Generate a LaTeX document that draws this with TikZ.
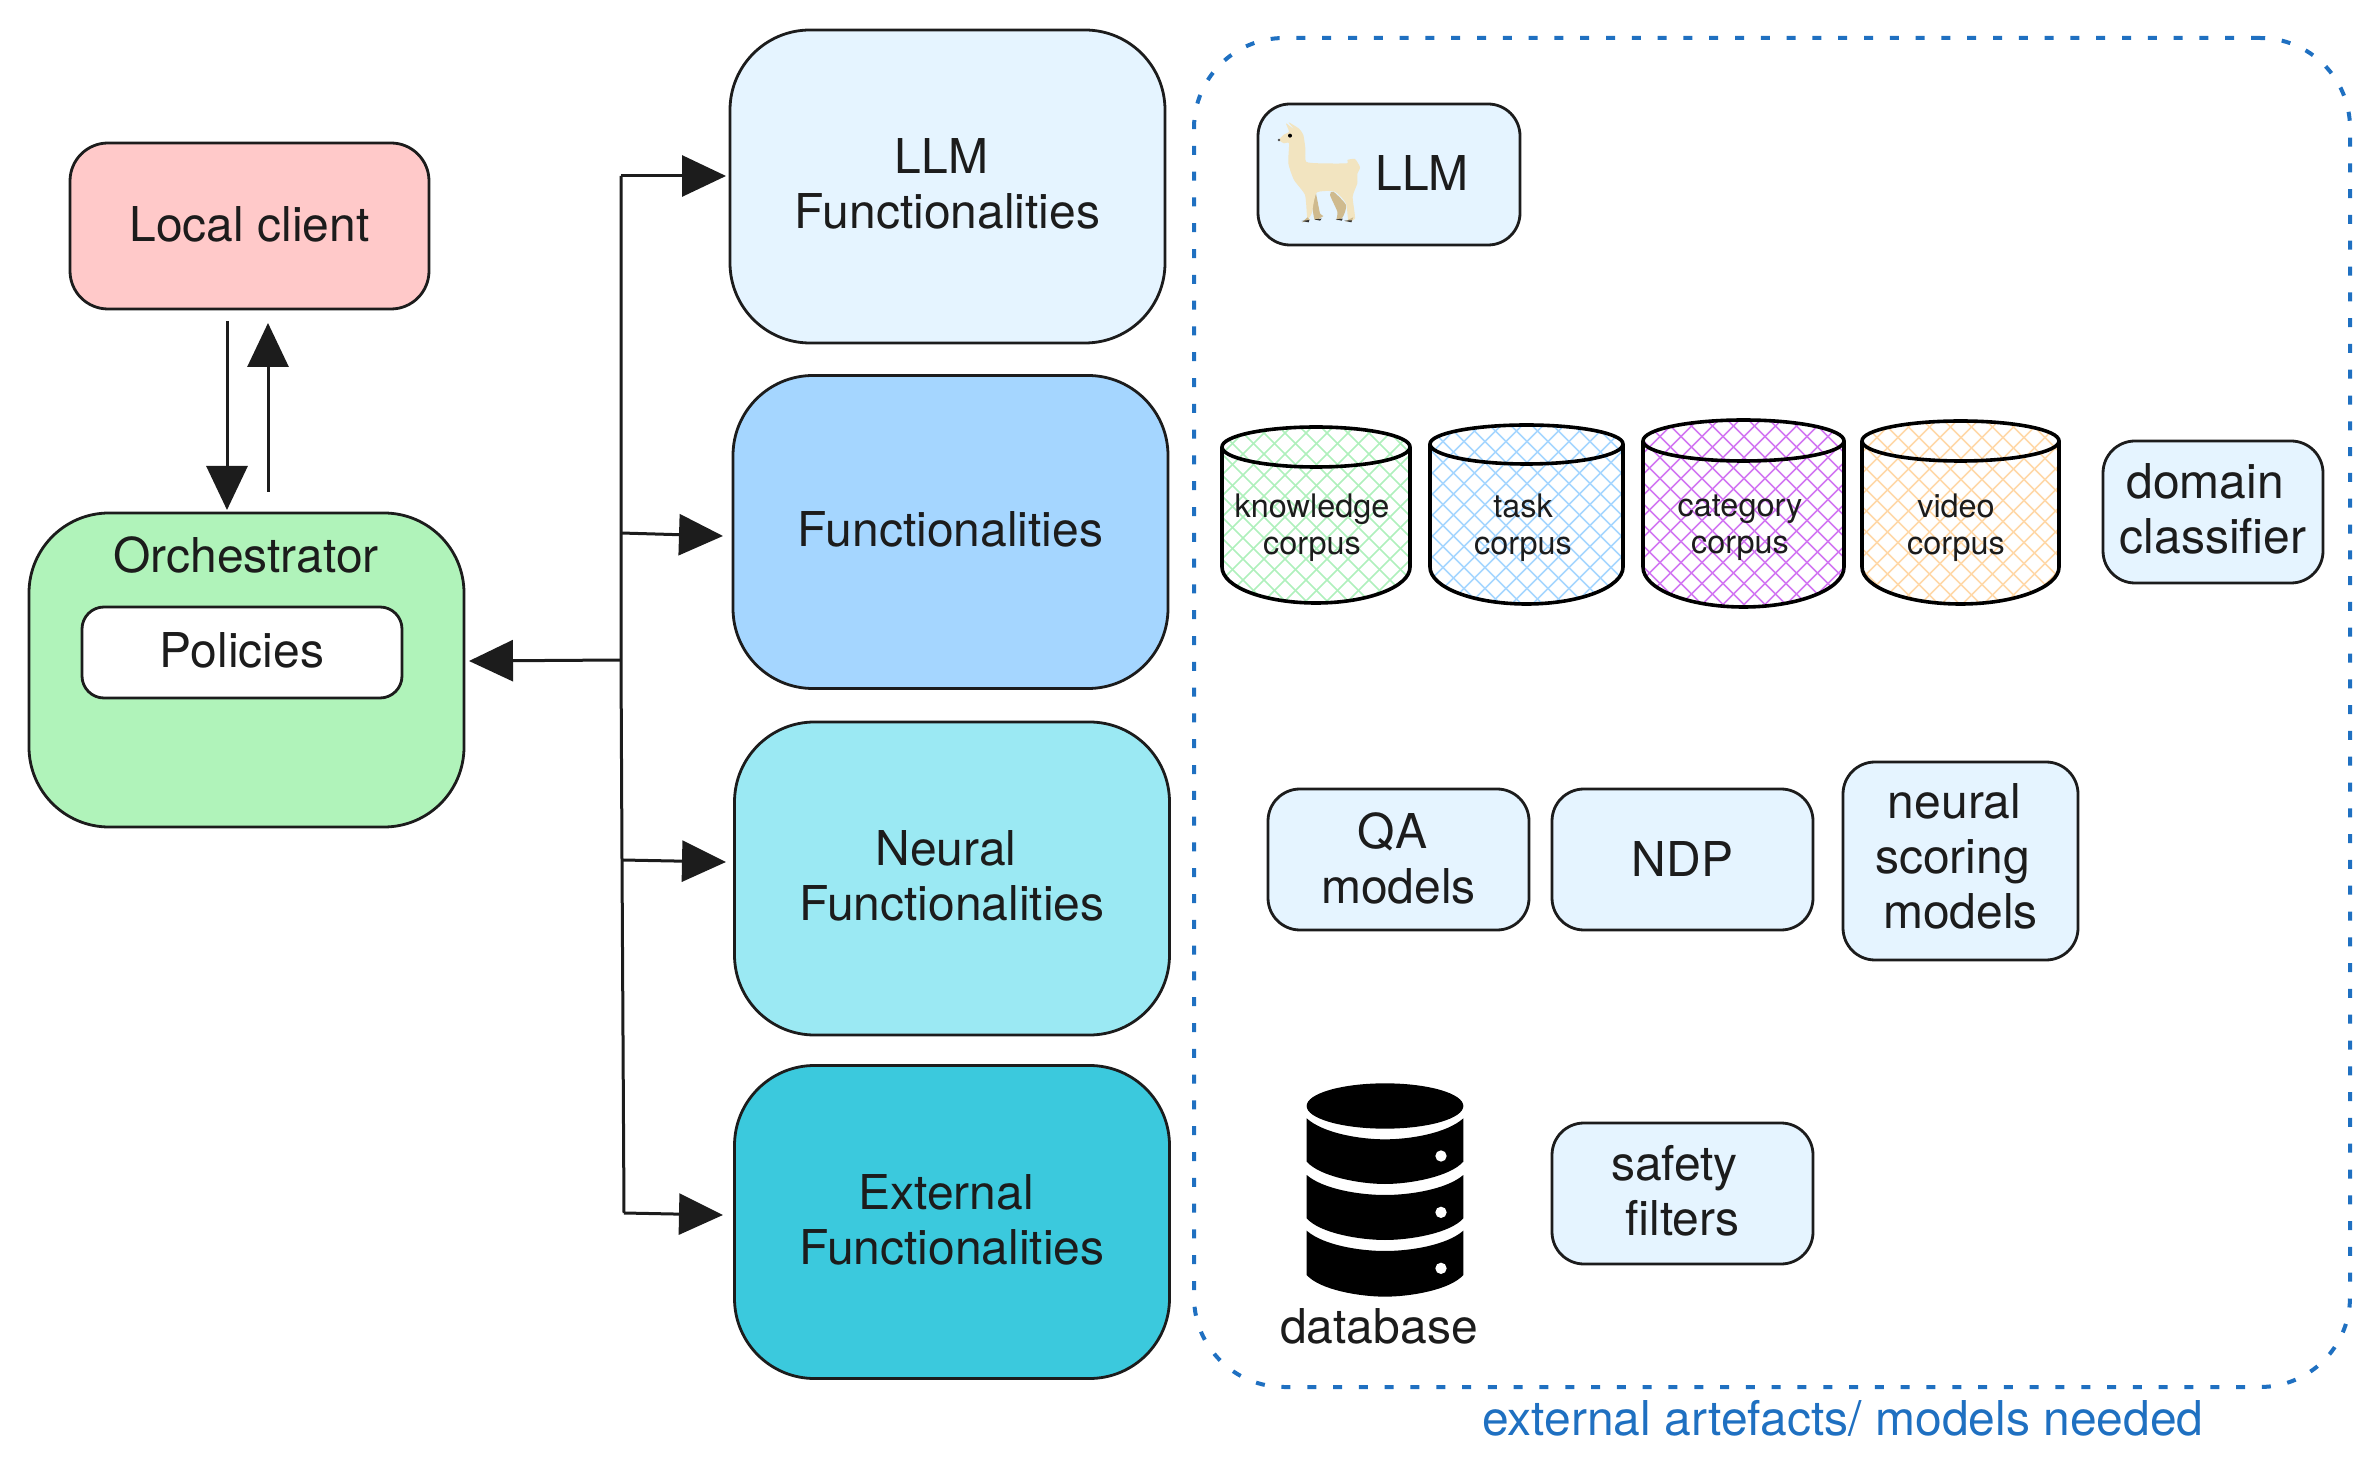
\documentclass[tikz,border=0pt]{standalone}
\usepackage{fontspec}
\setmainfont{TeX Gyre Heros}
\usetikzlibrary{arrows.meta}
\definecolor{ink}{HTML}{1C1C1C}
\definecolor{dashblue}{HTML}{1F70C1}
\definecolor{cLocal}{HTML}{FFC9C9}
\definecolor{cOrch}{HTML}{B0F3BA}
\definecolor{cPale}{HTML}{E5F4FF}
\definecolor{cFunc}{HTML}{A5D6FF}
\definecolor{cNeural}{HTML}{9BE9F3}
\definecolor{cExt}{HTML}{3BC9DD}
\definecolor{hGreen}{HTML}{AFF0BC}
\definecolor{hBlue}{HTML}{A6D6FF}
\definecolor{hPurple}{HTML}{D277F2}
\definecolor{hOrange}{HTML}{FFD8A8}
\definecolor{llamaA}{HTML}{F2E4C0}
\definecolor{llamaB}{HTML}{CFBA8E}
\tikzset{
  box/.style={draw=ink,line width=1.4pt,inner sep=0pt,align=center,text=ink,font=\fontsize{24}{27.5}\selectfont},
  bigbox/.style={box,rounded corners=40pt,minimum width=217.5pt,minimum height=156.5pt,text depth=3pt},
  smallbox/.style={box,fill=cPale,rounded corners=16pt},
  plain/.style={inner sep=0pt,align=center,text=ink,font=\fontsize{24}{27.5}\selectfont},
  corpustext/.style={inner sep=0pt,align=center,text=ink,font=\fontsize{16.2}{18.7}\selectfont},
  arr/.style={draw=ink,line width=1.5pt,-{Triangle[length=22pt,width=20.5pt]}},
  busline/.style={draw=ink,line width=1.5pt},
  cylline/.style={draw=black,line width=1.8pt},
}
\newcommand\corpus[8]{%
  \begin{scope}
  \pgfmathsetmacro\cyC{(#1+#2)/2}
  \pgfmathsetmacro\cyK{(#2-#1)/2*0.5523}
  \pgfmathsetmacro\cyA{#6+0.5523*(#7-#6)}
  \pgfmathsetmacro\cyB{#4-0.5523*(#4-#3)}
  \pgfmathsetmacro\cyD{#4+0.5523*(#5-#4)}
  \begin{scope}
    \clip (#1,#4) -- (#1,#6) .. controls (#1,\cyA) and (\cyC-\cyK,#7) .. (\cyC,#7)
      .. controls (\cyC+\cyK,#7) and (#2,\cyA) .. (#2,#6) -- (#2,#4)
      .. controls (#2,\cyB) and (\cyC+\cyK,#3) .. (\cyC,#3)
      .. controls (\cyC-\cyK,#3) and (#1,\cyB) .. (#1,#4) -- cycle;
    \foreach \o in {-220,-199,...,240}{
      \draw[#8,line width=0.8pt] (\cyC+\o-100,#3-10) -- (\cyC+\o+100,#3+190);
      \draw[#8,line width=0.8pt] (\cyC+\o+100,#3-10) -- (\cyC+\o-100,#3+190);
    }
  \end{scope}
  \draw[cylline] (#1,#4) -- (#1,#6) .. controls (#1,\cyA) and (\cyC-\cyK,#7) .. (\cyC,#7)
      .. controls (\cyC+\cyK,#7) and (#2,\cyA) .. (#2,#6) -- (#2,#4)
      .. controls (#2,\cyB) and (\cyC+\cyK,#3) .. (\cyC,#3)
      .. controls (\cyC-\cyK,#3) and (#1,\cyB) .. (#1,#4) -- cycle;
  \draw[cylline] (#1,#4) .. controls (#1,\cyD) and (\cyC-\cyK,#5) .. (\cyC,#5)
      .. controls (\cyC+\cyK,#5) and (#2,\cyD) .. (#2,#4);
  \end{scope}
}
\begin{document}
\begin{tikzpicture}[x=0.5pt,y=-0.5pt]
\useasboundingbox (0,0) rectangle (2378,1475);

% dashed frame
\node[draw=dashblue,line width=2pt,dash pattern=on 4.5pt off 8.4pt,rounded corners=45pt,
  minimum width=578pt,minimum height=674.5pt,inner sep=0pt] (frame) at (1772,712.5) {};
\node[inner sep=0pt,text=dashblue,font=\fontsize{24}{27.5}\selectfont] (framelabel) at (1843,1418) {external artefacts/ models needed};

% left column
\node[box,fill=cLocal,rounded corners=19pt,minimum width=179.5pt,minimum height=83pt,text depth=2pt] (local) at (249.5,226) {Local client};
\node[box,fill=cOrch,rounded corners=40pt,minimum width=217.5pt,minimum height=157pt] (orch) at (246.5,670) {};
\node[plain] (orchlabel) at (246,555) {Orchestrator};
\node[box,fill=white,rounded corners=11pt,minimum width=160pt,minimum height=45.5pt,text depth=2pt] (policies) at (242,652.5) {Policies};

% functionality column
\node[bigbox,fill=cPale] (llm) at (947.5,186.5) {LLM\kern6pt\\Functionalities};
\node[bigbox,fill=cFunc] (func) at (950.5,532) {Functionalities};
\node[bigbox,fill=cNeural] (neural) at (952,878.5) {Neural\kern6pt\\Functionalities};
\node[bigbox,fill=cExt] (ext) at (952,1222) {External\kern6pt\\Functionalities};

% connectors
\coordinate (d1) at (227,321);
\coordinate (d2) at (227,510);
\coordinate (u1) at (268,492);
\coordinate (u2) at (268,323);
\draw[arr] (d1) -- (d2);
\draw[arr] (u1) -- (u2);
\coordinate (b1) at (621,176);
\coordinate (b2) at (621,533);
\coordinate (b0) at (621,660);
\coordinate (b3) at (622,860);
\coordinate (b4) at (624,1213);
\coordinate (t0) at (469,661);
\coordinate (t1) at (726,176);
\coordinate (t2) at (723,536);
\coordinate (t3) at (726,862);
\coordinate (t4) at (723,1215);
\draw[busline] (b1) -- (b0) -- (b3) -- (b4);
\draw[arr] (b0) -- (t0);
\draw[arr] (b1) -- (t1);
\draw[arr] (b2) -- (t2);
\draw[arr] (b3) -- (t3);
\draw[arr] (b4) -- (t4);

% LLM box with llama
\node[smallbox,minimum width=131pt,minimum height=70.5pt] (llmbox) at (1389,174.5) {};
\node[plain] (llmlabel) at (1422,173) {LLM};
\begin{scope}[shift={(1220,80)},scale=1/3]
  \fill[llamaB] plot[smooth cycle,tension=.4] coordinates {(285,330) (300,400) (310,408) (285,420) (278,390) (268,340)};
  \fill[llamaB] plot[smooth cycle,tension=.4] coordinates {(340,335) (378,375) (368,412) (350,420) (352,395) (330,345)};
  \fill[llamaA] plot[smooth cycle,tension=.35] coordinates {(177,180) (190,165) (207,155) (198,130) (222,148) (206,127) (237,146) (250,165) (256,205) (258,245) (300,250) (380,250) (382,240) (405,237) (420,262) (412,282) (412,310) (398,350) (405,415) (385,420) (378,370) (345,335) (290,338) (275,400) (262,415) (255,345) (222,300) (205,250) (207,190) (192,190)};
  \fill[llamaB] (262,412) -- (270,420) -- (246,427) -- cycle;
  \fill[llamaB] (400,412) -- (395,425) -- (375,424) -- cycle;
  \fill[black!80] (245,423) -- (268,420) -- (266,427) -- cycle;
  \fill[black!80] (283,418) -- (305,416) -- (300,422) -- cycle;
  \fill[black!80] (347,418) -- (368,416) -- (365,422) -- cycle;
  \fill[black!80] (373,422) -- (396,421) -- (394,427) -- cycle;
  \fill[black] (210,167) circle[radius=6];
  \fill[black!70] (177,180) circle[radius=4];
\end{scope}

% corpora
\corpus{1222}{1410}{427}{447}{467}{567}{603}{hGreen}
\corpus{1430}{1623}{425}{444}{464}{567}{604}{hBlue}
\corpus{1643}{1844}{420}{441}{461}{567}{607}{hPurple}
\corpus{1862}{2059}{421}{441}{461}{567}{604}{hOrange}
\node[corpustext] (kc) at (1312,528) {knowledge\\corpus};
\node[corpustext] (tc) at (1523,528) {task\\corpus};
\node[corpustext] (cc) at (1740,528) {category\\corpus};
\node[corpustext] (vc) at (1956,528) {video\\corpus};
\node[smallbox,minimum width=110pt,minimum height=71pt,text depth=3pt] (domain) at (2213,512) {domain\kern8pt\\classifier};

% neural artefacts
\node[smallbox,minimum width=130.5pt,minimum height=70.5pt,text depth=1.5pt] (qa) at (1398.5,859.5) {QA\kern6pt\\models};
\node[smallbox,minimum width=130.5pt,minimum height=70.5pt] (ndp) at (1682.5,859.5) {NDP};
\node[smallbox,minimum width=117.5pt,minimum height=99pt,text depth=4.5pt] (nsm) at (1960.5,861) {neural\kern6pt\\scoring\kern8pt\\models};

% database icon
\begin{scope}[shift={(1260,1060)},scale=1/3]
  \fill[black] (375,138) ellipse[x radius=235,y radius=68];
  \fill[black] (140,175) .. controls (190,220) and (300,238) .. (375,238) .. controls (450,238) and (560,220) .. (610,175)
     -- (610,305) .. controls (570,350) and (450,372) .. (375,372) .. controls (300,372) and (180,350) .. (140,305) -- cycle;
  \fill[black] (140,345) .. controls (190,388) and (300,405) .. (375,405) .. controls (450,405) and (560,388) .. (610,345)
     -- (610,475) .. controls (570,520) and (450,540) .. (375,540) .. controls (300,540) and (180,520) .. (140,475) -- cycle;
  \fill[black] (140,512) .. controls (190,556) and (300,573) .. (375,573) .. controls (450,573) and (560,556) .. (610,512)
     -- (610,645) .. controls (570,690) and (450,710) .. (375,710) .. controls (300,710) and (180,690) .. (140,645) -- cycle;
  \fill[white] (543,288) circle[radius=17];
  \fill[white] (543,457) circle[radius=17];
  \fill[white] (543,625) circle[radius=17];
\end{scope}
\node[plain] (dblabel) at (1379,1326) {database};
\node[smallbox,minimum width=130.5pt,minimum height=70.5pt,text depth=3pt] (safety) at (1682.5,1193.5) {safety\kern8pt\\filters};
\end{tikzpicture}
\end{document}
